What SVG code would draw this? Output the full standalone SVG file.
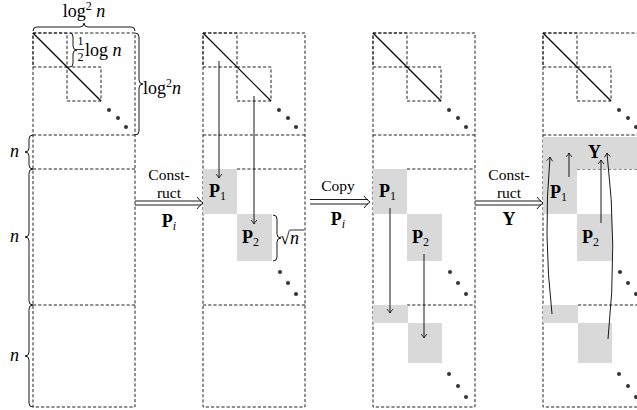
<svg xmlns="http://www.w3.org/2000/svg" width="637" height="410" viewBox="0 0 637 410">
<style>
.d{fill:none;stroke:#222;stroke-width:1;stroke-dasharray:3.2 2}
.g{fill:#d9d9d9;stroke:none}
.l{fill:none;stroke:#000;stroke-width:0.9}
.dg{fill:none;stroke:#000;stroke-width:1.2}
.br{fill:none;stroke:#000;stroke-width:0.9}
.t{font-family:"Liberation Serif","Times New Roman",serif;font-size:18px;fill:#000}
.a{font-size:15.5px}
.s{font-size:12px}
.i{font-style:italic}
.b{font-weight:bold}
.dot{fill:#333}
</style>
<defs>
<marker id="ah" viewBox="-5 -4 6 8" refX="0" refY="0" markerWidth="6" markerHeight="8" markerUnits="userSpaceOnUse" orient="auto">
<path d="M-4,-3 Q-1.5,-0.8 0,0 Q-1.5,0.8 -4,3" fill="none" stroke="#000" stroke-width="0.8"/>
</marker>
<g id="top">
<rect class="d" x="0" y="33" width="34" height="34"/>
<rect class="d" x="34" y="67" width="34" height="34"/>
<line class="dg" x1="0" y1="33" x2="68" y2="101"/>
<circle class="dot" cx="76" cy="110" r="2"/>
<circle class="dot" cx="85" cy="118" r="2"/>
<circle class="dot" cx="93" cy="127" r="2"/>
</g>
<g id="pdots">
<circle class="dot" cx="77" cy="272" r="2"/>
<circle class="dot" cx="85" cy="283" r="2"/>
<circle class="dot" cx="93" cy="294" r="2"/>
</g>
<g id="ldots">
<circle class="dot" cx="76" cy="374" r="2"/>
<circle class="dot" cx="85" cy="386" r="2"/>
<circle class="dot" cx="93" cy="397" r="2"/>
</g>
</defs>

<g id="panel1" transform="translate(33,0)">
<rect class="d" x="0" y="33" width="102" height="374"/>
<line class="d" x1="0" y1="135" x2="102" y2="135"/>
<line class="d" x1="0" y1="169" x2="102" y2="169"/>
<line class="d" x1="0" y1="305" x2="102" y2="305"/>
<use href="#top"/>
</g>

<g id="panel2" transform="translate(203,0)">
<rect class="d" x="0" y="33" width="102" height="374"/>
<line class="d" x1="0" y1="135" x2="102" y2="135"/>
<line class="d" x1="34" y1="169" x2="102" y2="169"/>
<line class="d" x1="0" y1="305" x2="102" y2="305"/>
<use href="#top"/>
<rect class="g" x="0" y="169" width="34" height="45"/>
<rect class="g" x="34" y="214" width="35" height="47"/>
<use href="#pdots"/>
<text class="t" x="6" y="197"><tspan class="b">P</tspan><tspan class="s" dy="3">1</tspan></text>
<text class="t" x="39" y="243"><tspan class="b">P</tspan><tspan class="s" dy="3">2</tspan></text>
</g>

<g id="panel3" transform="translate(373,0)">
<rect class="d" x="0" y="33" width="102" height="374"/>
<line class="d" x1="0" y1="135" x2="102" y2="135"/>
<line class="d" x1="34" y1="169" x2="102" y2="169"/>
<line class="d" x1="34" y1="305" x2="102" y2="305"/>
<use href="#top"/>
<rect class="g" x="0" y="169" width="34" height="45"/>
<rect class="g" x="34" y="214" width="35" height="47"/>
<rect class="g" x="0" y="305" width="35" height="18"/>
<rect class="g" x="35" y="323" width="34" height="40"/>
<use href="#pdots"/>
<use href="#ldots"/>
<text class="t" x="6" y="197"><tspan class="b">P</tspan><tspan class="s" dy="3">1</tspan></text>
<text class="t" x="39" y="243"><tspan class="b">P</tspan><tspan class="s" dy="3">2</tspan></text>
</g>

<g id="panel4" transform="translate(543,0)">
<rect class="d" x="0" y="33" width="102" height="374"/>
<line class="d" x1="0" y1="135" x2="102" y2="135"/>
<line class="d" x1="34" y1="169" x2="102" y2="169"/>
<line class="d" x1="35" y1="305" x2="102" y2="305"/>
<use href="#top"/>
<rect class="g" x="0" y="137" width="102" height="32"/>
<rect class="g" x="0" y="169" width="34" height="45"/>
<rect class="g" x="34" y="214" width="35" height="47"/>
<rect class="g" x="0" y="305" width="35" height="18"/>
<rect class="g" x="35" y="323" width="34" height="40"/>
<use href="#pdots"/>
<use href="#ldots"/>
<text class="t b" x="45" y="158">Y</text>
<text class="t" x="7" y="198"><tspan class="b">P</tspan><tspan class="s" dy="3">1</tspan></text>
<text class="t" x="39" y="243"><tspan class="b">P</tspan><tspan class="s" dy="3">2</tspan></text>
</g>

<g id="braces">
<path class="br" d="M33,31 Q33,27 37,27 L80,27 Q84,27 84,23 Q84,27 88,27 L131,27 Q135,27 135,31"/>
<text class="t" x="84" y="17" text-anchor="middle">log<tspan class="s" dy="-7">2</tspan><tspan dy="7"> </tspan><tspan class="i">n</tspan></text>
<path class="br" d="M135,33 Q139,33 139,37 L139,80 Q139,84 143,84 Q139,84 139,88 L139,131 Q139,135 135,135"/>
<text class="t" x="143" y="94">log<tspan class="s" dy="-7">2</tspan><tspan class="i" dy="7">n</tspan></text>
<path class="br" d="M70,33 Q73,33 73,37 L73,46 Q73,50 77,50 Q73,50 73,54 L73,63 Q73,67 70,67"/>
<text class="t s" x="80.5" y="45" text-anchor="middle">1</text>
<line x1="77" y1="49.5" x2="84" y2="49.5" stroke="#000" stroke-width="0.8"/>
<text class="t s" x="80.5" y="61" text-anchor="middle">2</text>
<text class="t" x="85" y="56">log <tspan class="i">n</tspan></text>
<path class="br" d="M33,135 Q29,135 29,139 L29,148 Q29,152 25,152 Q29,152 29,156 L29,165 Q29,169 33,169"/>
<text class="t i" x="10" y="157">n</text>
<path class="br" d="M33,169 Q29,169 29,173 L29,233 Q29,237 25,237 Q29,237 29,241 L29,301 Q29,305 33,305"/>
<text class="t i" x="10" y="242">n</text>
<path class="br" d="M33,305 Q29,305 29,309 L29,352 Q29,356 25,356 Q29,356 29,360 L29,403 Q29,407 33,407"/>
<text class="t i" x="10" y="361">n</text>
<path class="br" d="M273,215 Q277,215 277,219 L277,234 Q277,238 281,238 Q277,238 277,242 L277,257 Q277,261 273,261"/>
<text class="t" x="280" y="244">√<tspan class="i">n</tspan></text>
<line x1="290" y1="230" x2="304" y2="230" stroke="#000" stroke-width="0.8"/>
</g>

<g id="connectors">
<line class="l" x1="135" y1="201" x2="201" y2="201"/>
<line class="l" x1="135" y1="205" x2="201" y2="205"/>
<path class="l" d="M197,197 Q200,201 203,203 Q200,205 197,209"/>
<text class="t a" x="169" y="180" text-anchor="middle">Const-</text>
<text class="t a" x="169" y="197.5" text-anchor="middle">ruct</text>
<text class="t" x="169" y="227" text-anchor="middle"><tspan class="b">P</tspan><tspan class="s i" dy="3">i</tspan></text>

<line class="l" x1="310" y1="199.5" x2="368" y2="199.5"/>
<line class="l" x1="310" y1="204" x2="368" y2="204"/>
<path class="l" d="M364,196 Q367,200 370,202 Q367,204 364,208"/>
<text class="t a" x="338" y="191" text-anchor="middle">Copy</text>
<text class="t" x="338" y="225" text-anchor="middle"><tspan class="b">P</tspan><tspan class="s i" dy="3">i</tspan></text>

<line class="l" x1="475" y1="201" x2="541" y2="201"/>
<line class="l" x1="475" y1="205" x2="541" y2="205"/>
<path class="l" d="M537,197 Q540,201 543,203 Q540,205 537,209"/>
<text class="t a" x="509" y="180" text-anchor="middle">Const-</text>
<text class="t a" x="509" y="197.5" text-anchor="middle">ruct</text>
<text class="t b" x="509" y="225" text-anchor="middle">Y</text>

<path class="l" d="M219,61 V178" marker-end="url(#ah)"/>
<path class="l" d="M254,96 V224" marker-end="url(#ah)"/>
<path class="l" d="M390,208 V313" marker-end="url(#ah)"/>
<path class="l" d="M424,254 V338" marker-end="url(#ah)"/>
<path class="l" d="M569,177 V153" marker-end="url(#ah)"/>
<path class="l" d="M601,223 V160" marker-end="url(#ah)"/>
<path class="l" d="M552,314 Q543,235 550,157" marker-end="url(#ah)"/>
<path class="l" d="M608,339 Q618,246 607,153" marker-end="url(#ah)"/>
</g>
</svg>
